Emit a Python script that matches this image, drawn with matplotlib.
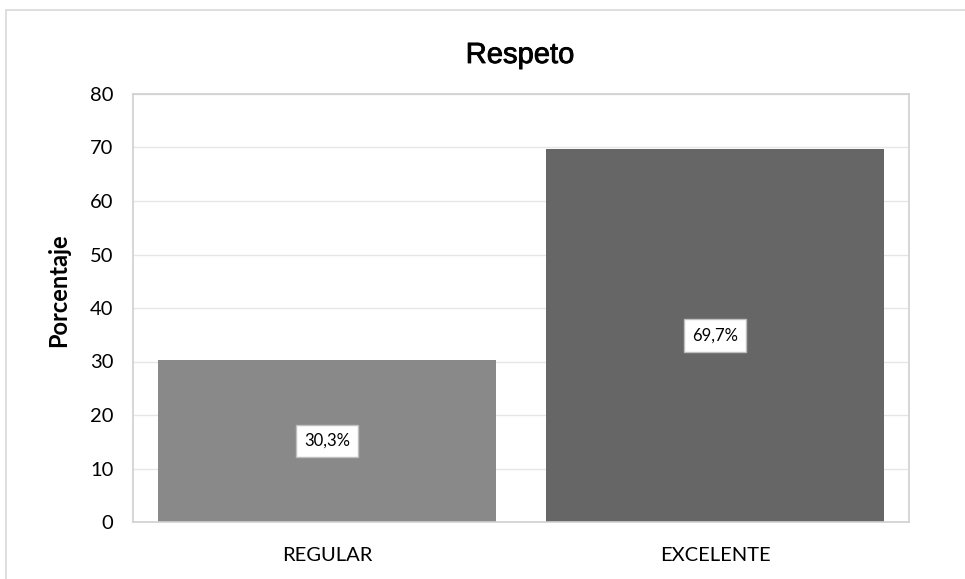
import matplotlib.pyplot as plt
import matplotlib.patheffects as pe
from matplotlib.patches import Rectangle

categorias = ['REGULAR', 'EXCELENTE']
porcentajes = [30.3, 69.7]
colores = ['#898989', '#666666']

fig = plt.figure(figsize=(9.65, 5.79), dpi=100)
ax = fig.add_axes([133/965, 1 - 522/579, 776/965, 428/579])

# marco exterior del grafico
fig.patches.append(Rectangle((6/965, -0.1), 1.1, 1 - 10/579 + 0.1,
                             transform=fig.transFigure, fill=False,
                             edgecolor='#d9d9d9', linewidth=1.2))

x = range(len(categorias))
barras = ax.bar(x, porcentajes, width=0.87, color=colores, zorder=2)

for xi, v in zip(x, porcentajes):
    ax.text(xi, v / 2, '{:.1f}%'.format(v).replace('.', ','),
            ha='center', va='center', fontsize=12, family='Lato', zorder=3,
            bbox=dict(boxstyle='square,pad=0.5', facecolor='white',
                      edgecolor='#bfbfbf', linewidth=1))

ax.set_xlim(-0.5, 1.5)
ax.set_ylim(0, 80)
ax.set_yticks(range(0, 81, 10))
ax.set_xticks(list(x))
ax.set_xticklabels(categorias)
ax.tick_params(length=0, labelsize=14.5)
ax.tick_params(axis='y', pad=14)
ax.tick_params(axis='x', pad=18)
for lab in ax.get_xticklabels() + ax.get_yticklabels():
    lab.set_family('Lato')
ax.yaxis.grid(True, color='#e6e6e6', linewidth=1, zorder=0)
ax.set_axisbelow(True)
for s in ax.spines.values():
    s.set_color('#d0d0d0')
    s.set_linewidth(1.2)

ax.set_ylabel('Porcentaje', fontsize=17, fontweight='bold', family='Lato')
ax.yaxis.set_label_coords(-0.081, 0.541)
fig.text(520/965, 1 - 63/579, 'Respeto', ha='center', va='baseline',
         fontsize=21, family='Liberation Sans',
         path_effects=[pe.withStroke(linewidth=0.6, foreground='black')])

fig.savefig('out.png', dpi=100)
